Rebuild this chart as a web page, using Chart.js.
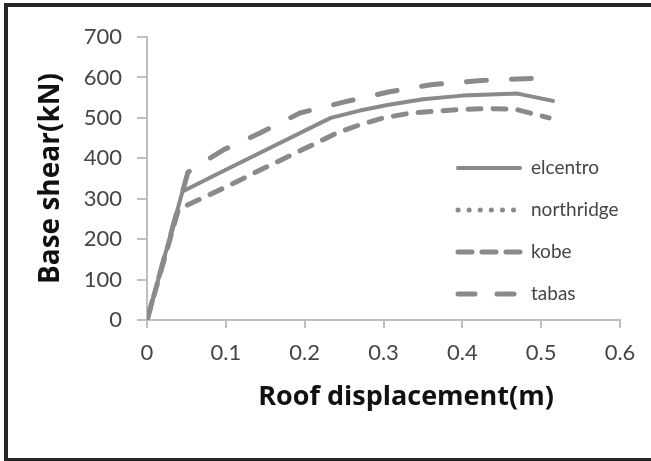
<!DOCTYPE html>
<html>
<head>
<meta charset="utf-8">
<script src="https://cdn.jsdelivr.net/npm/chart.js@4/dist/chart.umd.min.js"></script>
<style>
  html, body { margin: 0; padding: 0; background: #fff; }
  #wrap { width: 651px; height: 461px; position: relative; }
</style>
</head>
<body>
<div id="wrap"><canvas id="chart" width="651" height="461"></canvas></div>
<script>
// values
const seriesNames = ['elcentro', 'northridge', 'kobe', 'tabas'];

const elcentroX = [0, 0.045, 0.093, 0.15, 0.233, 0.27, 0.305, 0.35, 0.4, 0.47, 0.515];
const elcentroY = [0, 318, 365, 420, 500, 518, 532, 546, 555, 560, 542];

// hidden under the solid line in the picture
const northridgeX = [0, 0.045, 0.093, 0.15, 0.233, 0.27, 0.305, 0.35, 0.4, 0.47, 0.515];
const northridgeY = [0, 318, 365, 420, 500, 518, 532, 546, 555, 560, 542];

const kobeX = [0, 0.04, 0.1, 0.15, 0.2, 0.24, 0.27, 0.3, 0.335, 0.37, 0.4, 0.435, 0.468, 0.51];
const kobeY = [0, 274, 329, 377, 424, 462, 483, 500, 512, 517, 521, 523, 521, 500];

const tabasX = [0, 0.052, 0.097, 0.144, 0.194, 0.252, 0.306, 0.36, 0.42, 0.493];
const tabasY = [0, 366, 421, 463, 512, 540, 564, 582, 592, 598];

const xTickLabels = ['0', '0.1', '0.2', '0.3', '0.4', '0.5', '0.6'];
const yTickLabels = ['0', '100', '200', '300', '400', '500', '600', '700'];

const xTitle = 'Roof displacement(m)';
const yTitle = 'Base shear(kN)';

const lineColor = '#8a8a8a';
const axisColor = '#bfbfbf';
const tickColor = '#454545';
const tickFont = "Lato, 'Open Sans', sans-serif";
const titleFont = "'Open Sans', 'Noto Sans', sans-serif";

function points(xs, ys) {
    return xs.map((x, i) => ({ x: x, y: ys[i] }));
}

// line styles: plot dash, legend dash
const styles = [
    { width: 4, dash: [], legendWidth: 4, legendDash: [] },
    { width: 3, dash: [1, 9], legendWidth: 5, legendDash: [0.1, 11] },
    { width: 5, dash: [13, 12], legendWidth: 5, legendDash: [14, 10] },
    { width: 5, dash: [20, 25], legendWidth: 5, legendDash: [17, 22] }
];

const allData = [
    points(elcentroX, elcentroY),
    points(northridgeX, northridgeY),
    points(kobeX, kobeY),
    points(tabasX, tabasY)
];

const datasets = seriesNames.map((name, i) => ({
    label: name,
    data: allData[i],
    borderColor: lineColor,
    borderWidth: styles[i].width,
    borderDash: styles[i].dash,
    borderCapStyle: 'round',
    borderJoinStyle: 'round',
    pointRadius: 0,
    fill: false,
    tension: 0
}));

// legend inside the plot on the right, plus the x title
const insideLegend = {
    id: 'insideLegend',
    afterDraw(chart) {
        const ctx = chart.ctx;
        ctx.save();
        ctx.font = "19px " + tickFont;
        ctx.textBaseline = 'middle';
        chart.data.datasets.forEach((ds, i) => {
            const y = 168 + i * 42;
            ctx.strokeStyle = ds.borderColor;
            ctx.lineWidth = styles[i].legendWidth;
            ctx.lineCap = 'round';
            ctx.setLineDash(styles[i].legendDash);
            ctx.beginPath();
            ctx.moveTo(458, y);
            ctx.lineTo(520, y);
            ctx.stroke();
            ctx.setLineDash([]);
            ctx.fillStyle = tickColor;
            ctx.fillText(ds.label, 531, y);
        });
        ctx.font = "bold 27px " + titleFont;
        ctx.fillStyle = '#111';
        ctx.textAlign = 'center';
        ctx.fillText(xTitle, 406, 397);
        ctx.restore();
    }
};

// dark frame around the figure
const frame = {
    id: 'frame',
    beforeDraw(chart) {
        const ctx = chart.ctx;
        ctx.save();
        ctx.fillStyle = '#fff';
        ctx.fillRect(0, 0, chart.width, chart.height);
        ctx.fillStyle = '#262626';
        ctx.fillRect(4, 3, 647, 4);
        ctx.fillRect(4, 3, 4, 458);
        ctx.fillRect(4, 458, 647, 3);
        ctx.restore();
    }
};

new Chart(document.getElementById('chart'), {
    type: 'line',
    data: { datasets: datasets },
    plugins: [frame, insideLegend],
    options: {
        responsive: false,
        animation: false,
        layout: { padding: { top: 37, right: 31, left: 34, bottom: 0 } },
        plugins: {
            legend: { display: false },
            tooltip: { enabled: false }
        },
        scales: {
            x: {
                type: 'linear',
                min: 0,
                max: 0.6,
                afterFit(scale) { scale.height = 141; },
                ticks: {
                    stepSize: 0.1,
                    color: tickColor,
                    font: { family: tickFont, size: 22 },
                    padding: 12,
                    callback: (v, i) => xTickLabels[i]
                },
                grid: {
                    drawOnChartArea: false,
                    color: axisColor,
                    tickLength: 8,
                    lineWidth: 2
                },
                border: { color: axisColor, width: 2 }
            },
            y: {
                min: 0,
                max: 700,
                afterFit(scale) { scale.width = 113; },
                ticks: {
                    stepSize: 100,
                    color: tickColor,
                    font: { family: tickFont, size: 22 },
                    padding: 15,
                    callback: (v, i) => yTickLabels[i]
                },
                grid: {
                    drawOnChartArea: false,
                    color: axisColor,
                    tickLength: 10,
                    lineWidth: 2
                },
                border: { color: axisColor, width: 2 },
                title: {
                    display: true,
                    text: yTitle,
                    color: '#111',
                    font: { family: titleFont, size: 28, weight: 'bold' },
                    padding: 0
                }
            }
        }
    }
});
</script>
</body>
</html>
